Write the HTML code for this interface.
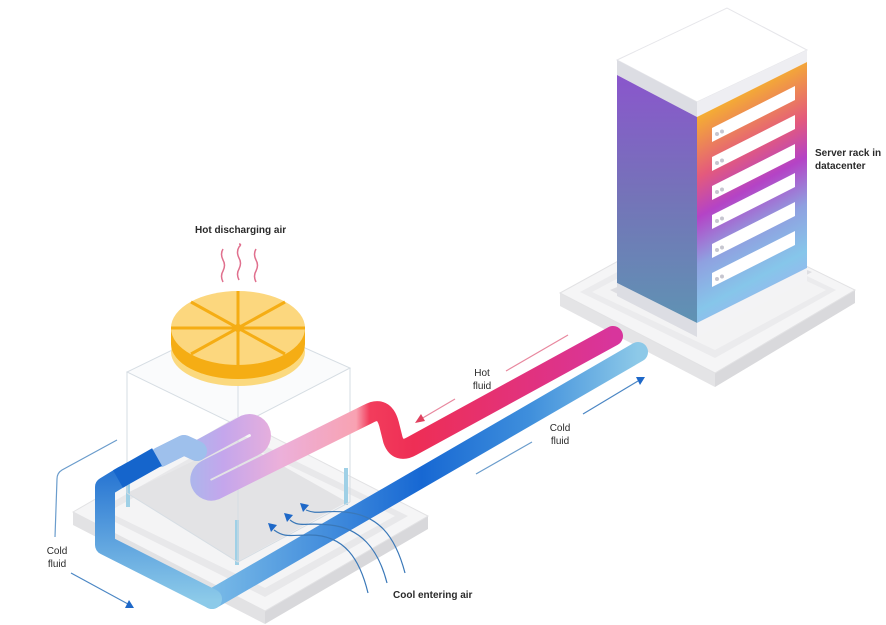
<!DOCTYPE html>
<html><head><meta charset="utf-8"><style>
html,body{margin:0;padding:0;background:#fff;}
svg{display:block;}
text{font-family:"Liberation Sans",sans-serif;font-size:10px;fill:#2a2a2a;font-weight:bold;}
</style></head><body>
<svg width="886" height="625" viewBox="0 0 886 625" xmlns="http://www.w3.org/2000/svg">
<defs>
<linearGradient id="rackL" x1="0" y1="0" x2="0" y2="1">
<stop offset="0" stop-color="#8a56cc"/><stop offset="0.5" stop-color="#7474b8"/><stop offset="1" stop-color="#5f93b3"/></linearGradient>
<linearGradient id="rackR" gradientUnits="userSpaceOnUse" x1="700" y1="110" x2="800" y2="290">
<stop offset="0" stop-color="#f6b52c"/><stop offset="0.28" stop-color="#e45a7c"/><stop offset="0.45" stop-color="#b443c6"/><stop offset="0.65" stop-color="#8fa0e0"/><stop offset="0.85" stop-color="#86c6ea"/><stop offset="1" stop-color="#9bb4f0"/></linearGradient>
<linearGradient id="hot" gradientUnits="userSpaceOnUse" x1="613" y1="0" x2="170" y2="0">
<stop offset="0" stop-color="#d8359c"/><stop offset="0.45" stop-color="#ee2e55"/><stop offset="0.55" stop-color="#f23d5c"/><stop offset="0.58" stop-color="#f8a2b2"/><stop offset="0.75" stop-color="#ecb0da"/><stop offset="0.88" stop-color="#c4a6ec"/><stop offset="1" stop-color="#9ec0ec"/></linearGradient>
<linearGradient id="cold" gradientUnits="userSpaceOnUse" x1="638" y1="0" x2="205" y2="0">
<stop offset="0" stop-color="#8dc9e8"/><stop offset="0.25" stop-color="#3f8fdc"/><stop offset="0.5" stop-color="#1768d3"/><stop offset="1" stop-color="#7cbde8"/></linearGradient>
<linearGradient id="coldL" gradientUnits="userSpaceOnUse" x1="0" y1="600" x2="0" y2="460">
<stop offset="0" stop-color="#8ccae9"/><stop offset="1" stop-color="#1e6dd0"/></linearGradient>
</defs>

<!-- rack platform -->
<polygon points="560,293 715,373 715,387 560,306" fill="#e4e4e6"/>
<polygon points="715,373 855,290 855,303 715,387" fill="#d9d9dc"/>
<polygon points="560,293 702,215 855,290 715,373" fill="#f5f5f6" stroke="#e2e2e4"/>
<polygon points="580,292 703,226 836,290 715,358" fill="#ebebed"/>
<polygon points="592,292 703,233 826,290 715,350" fill="#f3f3f4"/>
<polygon points="610,290 697,334 812,272 730,240" fill="#dedee2"/>

<!-- rack -->
<polygon points="617,60 727,8 807,50 697,102" fill="#ffffff" stroke="#e6e6ea"/>
<polygon points="617,60 697,102 697,117 617,75" fill="#dcdde3"/>
<polygon points="697,102 807,50 807,62 697,117" fill="#eeeef2"/>
<polygon points="617,75 697,117 697,323 617,283" fill="url(#rackL)"/>
<polygon points="697,117 807,62 807,268 697,323" fill="url(#rackR)"/>
<polygon points="617,283 697,323 697,337 617,296" fill="#dcdde3"/>
<polygon points="697,323 807,268 807,281 697,337" fill="#f3f3f5"/>
<g fill="#ffffff">
<polygon points="712,128 795,86 795,100 712,142"/>
<polygon points="712,157 795,115 795,129 712,171"/>
<polygon points="712,186 795,144 795,158 712,200"/>
<polygon points="712,215 795,173 795,187 712,229"/>
<polygon points="712,244 795,202 795,216 712,258"/>
<polygon points="712,273 795,231 795,245 712,287"/>
</g>
<g fill="#c6c6d0">
<circle cx="717" cy="134" r="2"/><circle cx="722" cy="131.5" r="2"/>
<circle cx="717" cy="163" r="2"/><circle cx="722" cy="160.5" r="2"/>
<circle cx="717" cy="192" r="2"/><circle cx="722" cy="189.5" r="2"/>
<circle cx="717" cy="221" r="2"/><circle cx="722" cy="218.5" r="2"/>
<circle cx="717" cy="250" r="2"/><circle cx="722" cy="247.5" r="2"/>
<circle cx="717" cy="279" r="2"/><circle cx="722" cy="276.5" r="2"/>
</g>
<text x="815" y="156">Server rack in</text>
<text x="815" y="169">datacenter</text>

<!-- left platform -->
<polygon points="73,512 265,611 265,624 73,525" fill="#e2e2e4"/>
<polygon points="265,611 428,516 428,529 265,624" fill="#d8d8db"/>
<polygon points="73,512 236,418 428,516 265,611" fill="#f5f5f6" stroke="#e2e2e4"/>
<polygon points="95,512 236,432 408,516 265,597" fill="#e8e8ea"/>
<polygon points="108,512 236,440 395,516 265,588" fill="#f4f4f5"/>
<polygon points="127,493 237,440 347,502 237,562" fill="#e3e3e5"/>

<!-- box -->
<g stroke="#9fd0e6" stroke-width="4">
<line x1="128" y1="475" x2="128" y2="507"/>
<line x1="346" y1="468" x2="346" y2="505"/>
<line x1="237" y1="520" x2="237" y2="565"/>
</g>
<polygon points="127,372 238,318 350,368 238,426" fill="#f7f8fa" opacity="0.6"/>
<g stroke="#d6dde3" stroke-width="1" fill="none">
<polygon points="127,372 238,318 350,368 238,426"/>
<line x1="127" y1="372" x2="127" y2="493"/>
<line x1="350" y1="368" x2="350" y2="502"/>
<line x1="238" y1="426" x2="238" y2="562"/>
<line x1="238" y1="318" x2="238" y2="440"/>
<polyline points="127,493 238,562 350,502"/>
</g>

<!-- hot pipe -->
<path d="M613,336 L412,446 Q398,454 393,440 L389,424 Q384,405 368,414 L215,490 A11,11 0 0 1 206,470 L254,446 A11,11 0 0 0 245,425 L197,451 L184,445 L160,457" fill="none" stroke="url(#hot)" stroke-width="20" stroke-linecap="round" stroke-linejoin="round"/>
<path d="M160,457 L184,445 L197,451" fill="none" stroke="#9ec0ec" stroke-width="20" stroke-linecap="round" stroke-linejoin="round"/>

<!-- fan -->
<ellipse cx="238" cy="352" rx="67" ry="34" fill="#fbd97e"/>
<ellipse cx="238" cy="344" rx="67" ry="35" fill="#f5ad14"/>
<rect x="171" y="328" width="134" height="16" fill="#f5ad14"/>
<ellipse cx="238" cy="328" rx="67" ry="37" fill="#fcd77e"/>
<g stroke="#f5ad14" stroke-width="3">
<line x1="171" y1="328" x2="305" y2="328"/>
<line x1="238" y1="291" x2="238" y2="365"/>
<line x1="191" y1="302" x2="285" y2="354"/>
<line x1="191" y1="354" x2="285" y2="302"/>
</g>
<circle cx="238" cy="328" r="4" fill="#f5ad14"/>
<text x="195" y="233">Hot discharging air</text>
<g stroke="#e0708e" stroke-width="1.5" fill="none">
<path d="M223,282 q-3,-6 0,-11 q3,-6 0,-11 q-3,-6 0,-11"/>
<path d="M239,280 q-3,-6 0,-11 q3,-6 0,-11 q-3,-6 0,-11 q3,-3 0,-3"/>
<path d="M256,282 q-3,-6 0,-11 q3,-6 0,-11 q-3,-6 0,-11"/>
</g>

<!-- cold pipe -->
<path d="M638,352 L212,599" fill="none" stroke="url(#cold)" stroke-width="20" stroke-linecap="round"/>
<path d="M212,599 L105,545 L105,487 L123,476" fill="none" stroke="url(#coldL)" stroke-width="20" stroke-linecap="round" stroke-linejoin="round"/>
<path d="M118,479 L157,457" fill="none" stroke="#1565cc" stroke-width="20" stroke-linecap="butt"/>

<!-- air arrows -->
<g stroke="#3a78b8" stroke-width="1.2" fill="none">
<path d="M368,593 C360,560 345,535 310,535 C290,535 285,538 274,530"/>
<path d="M387,583 C378,548 360,528 330,525 C305,522 300,528 290,520"/>
<path d="M405,573 C395,535 378,515 345,512 C322,510 318,515 306,510"/>
</g>
<g fill="#1e68c8">
<polygon points="268,523 277,525 271,532"/>
<polygon points="284,513 293,515 287,522"/>
<polygon points="300,503 309,505 303,512"/>
</g>
<text x="393" y="598">Cool entering air</text>

<!-- hot fluid labels -->
<line x1="568" y1="335" x2="506" y2="371" stroke="#e8879e" stroke-width="1.2"/>
<line x1="455" y1="399" x2="421" y2="419" stroke="#e8879e" stroke-width="1.2"/>
<polygon points="415,423 421,414 425,421" fill="#e0405e"/>
<text x="482" y="376" text-anchor="middle" style="font-weight:normal">Hot</text>
<text x="482" y="389" text-anchor="middle" style="font-weight:normal">fluid</text>

<!-- cold fluid labels -->
<line x1="583" y1="414" x2="638" y2="381" stroke="#4a86c4" stroke-width="1.2"/>
<polygon points="645,377 636,377 640,385" fill="#1e68c8"/>
<line x1="476" y1="474" x2="532" y2="442" stroke="#6a9ccc" stroke-width="1.2"/>
<text x="560" y="431" text-anchor="middle" style="font-weight:normal">Cold</text>
<text x="560" y="444" text-anchor="middle" style="font-weight:normal">fluid</text>

<path d="M117,440 L62,470 Q57,473 57,479 L55,537" fill="none" stroke="#6a9ccc" stroke-width="1.2"/>
<text x="57" y="554" text-anchor="middle" style="font-weight:normal">Cold</text>
<text x="57" y="567" text-anchor="middle" style="font-weight:normal">fluid</text>
<line x1="71" y1="573" x2="128" y2="604" stroke="#4a86c4" stroke-width="1.2"/>
<polygon points="134,608 125,608 129,600" fill="#1e68c8"/>
</svg>
</body></html>
